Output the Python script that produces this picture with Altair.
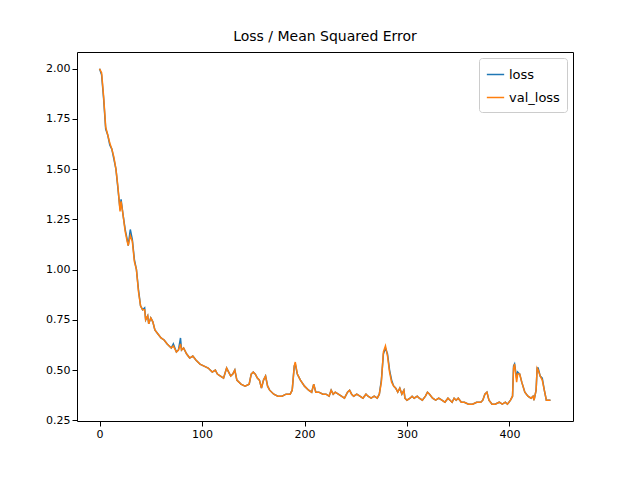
import altair as alt
import pandas as pd

epochs = [0, 2, 4, 6, 8, 10, 12, 14, 16, 18, 20, 21, 23, 25, 27, 28, 30, 32, 34, 36, 38, 40, 42, 44, 45, 47, 48, 50, 52, 54,
          57, 60, 63, 66, 70, 72, 75, 77, 79, 80, 82, 85, 88, 91, 94, 98, 102, 106, 110, 113, 115, 118, 121, 124, 126, 128,
          130, 132, 134, 138, 142, 146, 148, 150, 152, 154, 156, 158, 160, 162, 164, 166, 170, 174, 178, 182, 186, 188, 190,
          191, 193, 196, 200, 204, 207, 209, 211, 214, 218, 221, 224, 226, 228, 230, 233, 236, 239, 242, 244, 246, 248, 251,
          254, 257, 260, 262, 265, 268, 271, 273, 275, 277, 279, 281, 283, 285, 287, 289, 291, 293, 295, 297, 298, 300, 303,
          305, 307, 310, 312, 315, 318, 320, 322, 325, 328, 331, 334, 337, 340, 342, 344, 346, 348, 350, 353, 356, 360, 364,
          368, 372, 374, 376, 378, 380, 383, 386, 390, 393, 396, 398, 401, 403, 404, 405, 407, 408, 410, 412, 415, 418, 421,
          423, 424, 426, 427, 428, 430, 432, 434, 436, 438, 440]
loss = [2.00, 1.97, 1.85, 1.70, 1.67, 1.62, 1.60, 1.55, 1.50, 1.40, 1.30, 1.35, 1.27, 1.20, 1.15, 1.12, 1.20, 1.15, 1.05, 1.00,
        0.90, 0.82, 0.80, 0.81, 0.75, 0.77, 0.73, 0.76, 0.74, 0.70, 0.68, 0.66, 0.65, 0.63, 0.61, 0.63, 0.59, 0.60, 0.66, 0.60,
        0.61, 0.58, 0.56, 0.57, 0.55, 0.53, 0.52, 0.51, 0.49, 0.50, 0.48, 0.47, 0.46, 0.51, 0.49, 0.47, 0.48, 0.50, 0.45, 0.43,
        0.42, 0.43, 0.48, 0.49, 0.48, 0.46, 0.45, 0.41, 0.45, 0.47, 0.42, 0.40, 0.38, 0.37, 0.37, 0.38, 0.38, 0.40, 0.52, 0.53,
        0.48, 0.45, 0.42, 0.40, 0.39, 0.43, 0.39, 0.39, 0.38, 0.38, 0.37, 0.40, 0.38, 0.39, 0.38, 0.37, 0.36, 0.39, 0.40, 0.38,
        0.37, 0.38, 0.37, 0.36, 0.38, 0.37, 0.36, 0.37, 0.36, 0.38, 0.45, 0.58, 0.61, 0.58, 0.50, 0.45, 0.42, 0.41, 0.39, 0.41,
        0.38, 0.40, 0.36, 0.35, 0.36, 0.37, 0.36, 0.37, 0.36, 0.35, 0.37, 0.39, 0.38, 0.36, 0.35, 0.36, 0.35, 0.34, 0.36, 0.35,
        0.34, 0.36, 0.35, 0.36, 0.34, 0.34, 0.33, 0.33, 0.34, 0.34, 0.35, 0.38, 0.39, 0.35, 0.33, 0.33, 0.34, 0.33, 0.34, 0.33,
        0.35, 0.37, 0.52, 0.53, 0.46, 0.49, 0.48, 0.44, 0.39, 0.37, 0.36, 0.37, 0.35, 0.40, 0.51, 0.51, 0.47, 0.46, 0.40, 0.35,
        0.35, 0.35]
val_loss = [2.00, 1.98, 1.86, 1.71, 1.67, 1.63, 1.60, 1.56, 1.50, 1.41, 1.29, 1.34, 1.27, 1.19, 1.14, 1.12, 1.17, 1.14, 1.04, 1.00,
            0.89, 0.82, 0.80, 0.80, 0.75, 0.77, 0.73, 0.76, 0.74, 0.70, 0.68, 0.66, 0.65, 0.63, 0.61, 0.62, 0.59, 0.60, 0.63, 0.60,
            0.61, 0.58, 0.56, 0.57, 0.55, 0.53, 0.52, 0.51, 0.49, 0.50, 0.48, 0.47, 0.46, 0.51, 0.49, 0.47, 0.48, 0.50, 0.45, 0.43,
            0.42, 0.43, 0.48, 0.49, 0.48, 0.46, 0.45, 0.41, 0.45, 0.47, 0.42, 0.40, 0.38, 0.37, 0.37, 0.38, 0.38, 0.40, 0.52, 0.54,
            0.48, 0.45, 0.42, 0.40, 0.39, 0.43, 0.39, 0.39, 0.38, 0.38, 0.37, 0.40, 0.38, 0.39, 0.38, 0.37, 0.36, 0.39, 0.40, 0.38,
            0.37, 0.38, 0.37, 0.36, 0.38, 0.37, 0.36, 0.37, 0.36, 0.38, 0.44, 0.59, 0.62, 0.57, 0.49, 0.44, 0.42, 0.41, 0.39, 0.41,
            0.38, 0.40, 0.36, 0.35, 0.36, 0.37, 0.36, 0.37, 0.36, 0.35, 0.37, 0.39, 0.38, 0.36, 0.35, 0.36, 0.35, 0.34, 0.36, 0.35,
            0.34, 0.36, 0.35, 0.36, 0.34, 0.34, 0.33, 0.33, 0.34, 0.34, 0.35, 0.38, 0.39, 0.35, 0.33, 0.33, 0.34, 0.33, 0.34, 0.33,
            0.35, 0.37, 0.51, 0.53, 0.44, 0.48, 0.48, 0.44, 0.39, 0.37, 0.36, 0.37, 0.35, 0.40, 0.51, 0.50, 0.47, 0.45, 0.40, 0.35,
            0.35, 0.35]

df = pd.concat([
    pd.DataFrame({"epoch": epochs, "value": loss, "series": "loss"}),
    pd.DataFrame({"epoch": epochs, "value": val_loss, "series": "val_loss"}),
])

chart = alt.Chart(df).mark_line(strokeWidth=1.5).encode(
    x=alt.X("epoch:Q", title=None, scale=alt.Scale(domain=[-22, 462], nice=False, zero=False),
            axis=alt.Axis(values=[0, 100, 200, 300, 400], grid=False)),
    y=alt.Y("value:Q", title=None, scale=alt.Scale(domain=[0.2465, 2.0835], nice=False, zero=False),
            axis=alt.Axis(values=[0.25, 0.5, 0.75, 1.0, 1.25, 1.5, 1.75, 2.0], format=".2f", grid=False)),
    color=alt.Color("series:N", title=None,
                    scale=alt.Scale(domain=["loss", "val_loss"], range=["#1f77b4", "#ff7f0e"]),
                    legend=alt.Legend(orient="top-right", offset=6, symbolType="stroke", strokeColor="#cccccc",
                                      padding=7, cornerRadius=3, fillColor="white", labelFontSize=13,
                                      symbolSize=300, symbolStrokeWidth=1.5, rowPadding=6)),
    order="series:N",
).properties(
    width=496, height=369,
    padding={"left": 37, "top": 22, "right": 5, "bottom": 5},
    title=alt.TitleParams("Loss / Mean Squared Error", fontSize=14, fontWeight="normal"),
).configure_view(stroke="black", strokeWidth=1).configure_axis(
    domain=False, labelFontSize=11, labelColor="black", tickColor="black", labelFont="DejaVu Sans"
).configure_title(font="DejaVu Sans", offset=8).configure_legend(labelFont="DejaVu Sans")

chart.save("out.html", embed_options={"renderer": "svg", "actions": False})
